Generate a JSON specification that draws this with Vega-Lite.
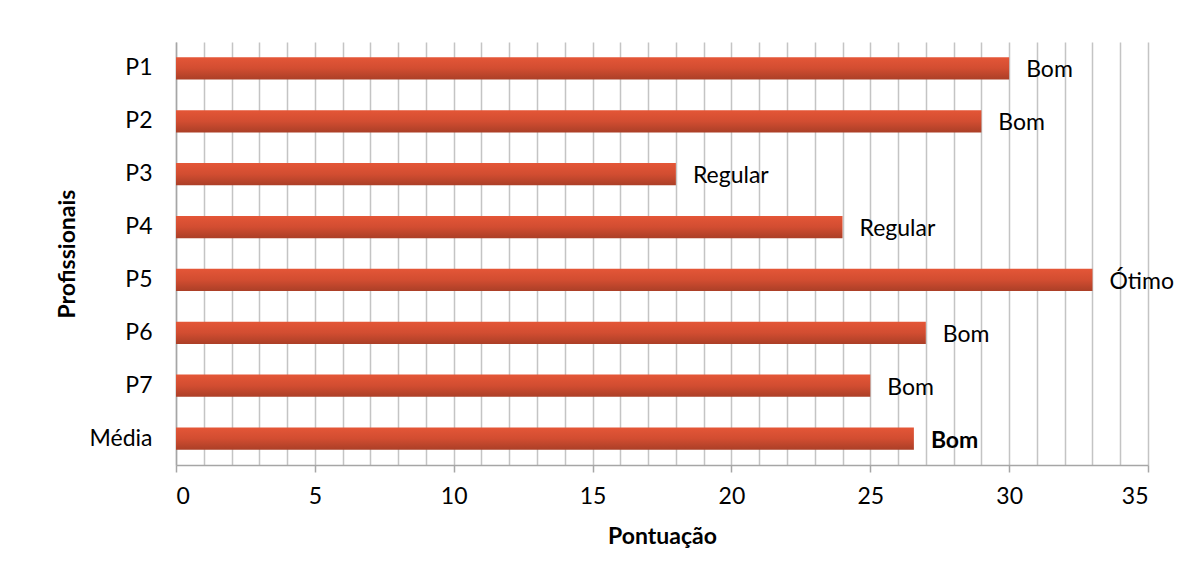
{
  "$schema": "https://vega.github.io/schema/vega-lite/v6.json",
  "autosize": "none",
  "width": 972,
  "height": 423,
  "padding": {"left": 176, "top": 42, "right": 31, "bottom": 116},
  "background": "white",
  "config": {
    "view": {"stroke": null},
    "font": "Lato",
    "text": {"font": "Lato"}
  },
  "data": {
    "values": [
      {"Profissional": "P1", "Pontuacao": 30, "Conceito": "Bom"},
      {"Profissional": "P2", "Pontuacao": 29, "Conceito": "Bom"},
      {"Profissional": "P3", "Pontuacao": 18, "Conceito": "Regular"},
      {"Profissional": "P4", "Pontuacao": 24, "Conceito": "Regular"},
      {"Profissional": "P5", "Pontuacao": 33, "Conceito": "Ótimo"},
      {"Profissional": "P6", "Pontuacao": 27, "Conceito": "Bom"},
      {"Profissional": "P7", "Pontuacao": 25, "Conceito": "Bom"},
      {"Profissional": "Média", "Pontuacao": 26.57, "Conceito": "Bom"}
    ]
  },
  "encoding": {
    "y": {
      "field": "Profissional",
      "type": "nominal",
      "sort": null,
      "scale": {"paddingInner": 0.58, "paddingOuter": 0.29},
      "axis": {
        "title": "Profissionais",
        "titleFont": "Lato",
        "titleFontSize": 23,
        "titleFontWeight": "bold",
        "titleColor": "black",
        "titlePadding": 10,
        "labelFont": "Lato",
        "labelFontSize": 23,
        "labelColor": "black",
        "labelPadding": 24,
        "ticks": false,
        "domainColor": "#a6a6a6",
        "domainWidth": 1.5,
        "grid": false
      }
    },
    "x": {
      "field": "Pontuacao",
      "type": "quantitative",
      "scale": {"domain": [0, 35], "nice": false, "zero": true},
      "axis": {
        "title": "Pontuação",
        "titleFont": "Lato",
        "titleFontSize": 23,
        "titleFontWeight": "bold",
        "titleColor": "black",
        "titlePadding": 17,
        "values": [0,1,2,3,4,5,6,7,8,9,10,11,12,13,14,15,16,17,18,19,20,21,22,23,24,25,26,27,28,29,30,31,32,33,34,35],
        "labelExpr": "datum.value % 5 === 0 ? datum.label : ''",
        "labelFont": "Lato",
        "labelFontSize": 23,
        "labelColor": "black",
        "labelPadding": 13,
        "tickSize": 7,
        "tickColor": {"condition": {"test": "datum.value % 5 === 0", "value": "#a6a6a6"}, "value": "transparent"},
        "tickWidth": 1.5,
        "domainColor": "#a6a6a6",
        "domainWidth": 1.5,
        "grid": true,
        "gridColor": "#c4c4c4",
        "gridWidth": 1.5
      }
    }
  },
  "layer": [
    {
      "mark": {
        "type": "bar",
        "color": {
          "gradient": "linear",
          "x1": 0, "y1": 0, "x2": 0, "y2": 1,
          "stops": [
            {"offset": 0, "color": "#e45637"},
            {"offset": 0.5, "color": "#d24d31"},
            {"offset": 1, "color": "#ab3f27"}
          ]
        }
      }
    },
    {
      "transform": [{"filter": "datum.Profissional !== 'Média'"}],
      "mark": {"type": "text", "align": "left", "baseline": "middle", "dx": 17, "dy": 2, "fontSize": 23, "color": "black"},
      "encoding": {"text": {"field": "Conceito"}}
    },
    {
      "transform": [{"filter": "datum.Profissional === 'Média'"}],
      "mark": {"type": "text", "align": "left", "baseline": "middle", "dx": 17, "dy": 2, "fontSize": 23, "fontWeight": "bold", "color": "black"},
      "encoding": {"text": {"field": "Conceito"}}
    }
  ]
}
